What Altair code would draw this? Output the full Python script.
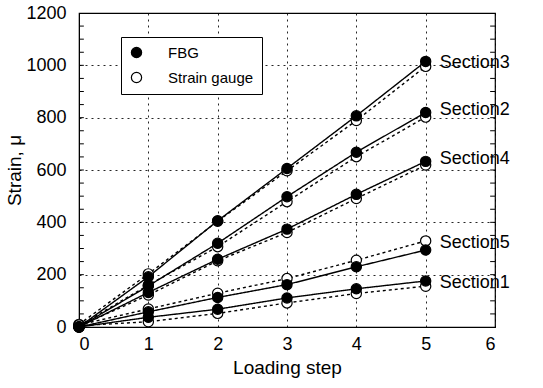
import altair as alt
import pandas as pd

steps = [0, 1, 2, 3, 4, 5]
sections = ["Section1", "Section2", "Section3", "Section4", "Section5"]
fbg_s1 = [0, 37, 68, 111, 146, 176]
fbg_s2 = [0, 157, 320, 498, 668, 820]
fbg_s3 = [0, 192, 406, 606, 807, 1015]
fbg_s4 = [0, 132, 259, 374, 507, 633]
fbg_s5 = [0, 58, 113, 162, 230, 294]
sg_s1 = [5, 20, 52, 92, 128, 156]
sg_s2 = [5, 160, 307, 479, 651, 802]
sg_s3 = [10, 203, 404, 597, 789, 996]
sg_s4 = [3, 122, 253, 361, 491, 619]
sg_s5 = [8, 69, 129, 185, 255, 329]
label_y = [170, 829, 1009, 642, 321]
minor_ticks = list(range(50, 1200, 50))

fbg = [fbg_s1, fbg_s2, fbg_s3, fbg_s4, fbg_s5]
sg = [sg_s1, sg_s2, sg_s3, sg_s4, sg_s5]

rows = []
for name, vals in zip(sections, sg):
    for s, v in zip(steps, vals):
        rows.append({"step": s, "strain": v, "sensor": "Strain gauge", "kind": "sg", "section": name})
for name, vals in zip(sections, fbg):
    for s, v in zip(steps, vals):
        rows.append({"step": s, "strain": v, "sensor": "FBG", "kind": "fbg", "section": name})
df = pd.DataFrame(rows)

lab = pd.DataFrame({"section": sections, "step": [5] * 5, "strain": label_y})
tk = pd.DataFrame({"y": minor_ticks * 2,
                   "x0": [0] * len(minor_ticks) + [5.93] * len(minor_ticks),
                   "x1": [0.07] * len(minor_ticks) + [6] * len(minor_ticks)})

FONT = "Liberation Sans"
xs = alt.Scale(domain=[0, 6], nice=False, zero=False)
ys = alt.Scale(domain=[0, 1200], nice=False)

xax = alt.Axis(values=[0, 1, 2, 3, 4, 5, 6], format="d", title="Loading step", grid=True,
               ticks=False, labelPadding=8, titlePadding=5, labelFontSize=18,
               titleFontSize=19, titleFontWeight="normal")
yax = alt.Axis(values=[0, 200, 400, 600, 800, 1000, 1200], format="d", title="Strain, μ", grid=True,
               ticks=False, labelPadding=13, titlePadding=1, labelFontSize=18,
               titleFontSize=19, titleFontWeight="normal")

base = alt.Chart(df)

lines = base.mark_line(color="black", strokeWidth=1.4).encode(
    x=alt.X("step:Q", scale=xs, axis=xax),
    y=alt.Y("strain:Q", scale=ys, axis=yax),
    detail=alt.Detail("section:N"),
    strokeDash=alt.StrokeDash("kind:N",
                              scale=alt.Scale(domain=["fbg", "sg"], range=[[1, 0], [3, 3]]),
                              legend=None),
)

points = base.mark_point(filled=True, stroke="black", strokeWidth=1.2, size=105, opacity=1).encode(
    x=alt.X("step:Q", scale=xs, axis=xax),
    y=alt.Y("strain:Q", scale=ys, axis=yax),
    fill=alt.Fill("sensor:N",
                  scale=alt.Scale(domain=["FBG", "Strain gauge"], range=["black", "white"]),
                  legend=alt.Legend(title=None, orient="none", legendX=42, legendY=24,
                                    padding=8, labelFontSize=15, labelOffset=24,
                                    symbolSize=105, symbolStrokeColor="black",
                                    symbolStrokeWidth=1.2, rowPadding=8,
                                    strokeColor="black", fillColor="white",
                                    labelFont=FONT, symbolType="circle")),
)

labels = alt.Chart(lab).mark_text(align="left", baseline="middle", dx=14, fontSize=18,
                                  font=FONT, color="black").encode(
    x=alt.X("step:Q", scale=xs, axis=xax),
    y=alt.Y("strain:Q", scale=ys, axis=yax),
    text="section:N",
)

ticks = alt.Chart(tk).mark_rule(color="black", strokeWidth=1).encode(
    x=alt.X("x0:Q", scale=xs, axis=xax), x2="x1:Q",
    y=alt.Y("y:Q", scale=ys, axis=yax),
)

chart = alt.layer(lines, points, labels, ticks).properties(
    width=416, height=314,
    autosize=alt.AutoSizeParams(type="none"),
    padding={"left": 79, "top": 13, "right": 48, "bottom": 61},
    background="white",
).configure_view(
    stroke="black", strokeWidth=1.2
).configure_axis(
    grid=True, gridColor="black", gridDash=[2, 4], gridWidth=1, gridOpacity=0.85,
    domainColor="black", labelColor="black", titleColor="black",
    labelFont=FONT, titleFont=FONT,
).configure_text(font=FONT)

chart.save("out.html", embed_options={"renderer": "svg", "actions": False})
